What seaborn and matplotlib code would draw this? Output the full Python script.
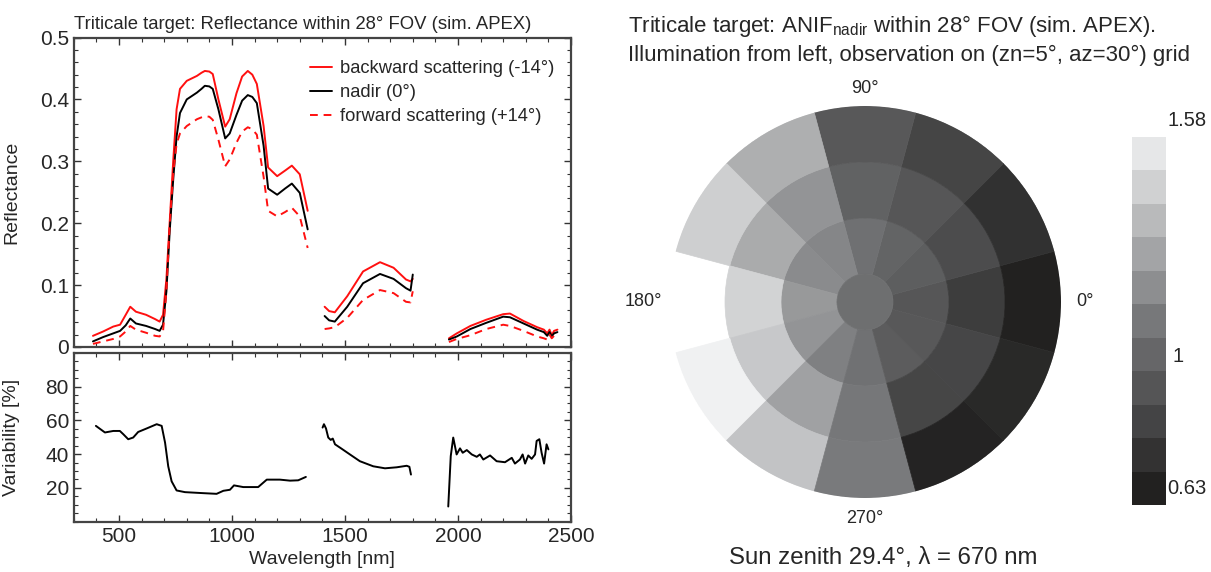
import numpy as np
import pandas as pd
import matplotlib
matplotlib.use("Agg")
import matplotlib.pyplot as plt
import seaborn as sns
from matplotlib.colors import LinearSegmentedColormap, Normalize
from matplotlib.colorbar import ColorbarBase
from matplotlib.lines import Line2D
from matplotlib.ticker import MultipleLocator

### spectral data
wl_vnir = [385, 430, 475, 505, 530, 550, 575, 620, 660, 680, 695, 710, 725, 740, 755, 770, 800, 845,
           865, 880, 900, 915, 940, 970, 990, 1020, 1045, 1070, 1090, 1110, 1140, 1160, 1200, 1235, 1265,
           1300, 1335]
back_vnir = [0.018, 0.025, 0.033, 0.036, 0.052, 0.065, 0.057, 0.052, 0.045, 0.041, 0.052, 0.11, 0.205, 0.30,
             0.384, 0.417, 0.43, 0.438, 0.443, 0.446, 0.445, 0.441, 0.40, 0.356, 0.368, 0.41, 0.437, 0.446,
             0.440, 0.425, 0.357, 0.29, 0.276, 0.285, 0.293, 0.279, 0.22]
nadir_vnir = [0.009, 0.016, 0.022, 0.026, 0.035, 0.046, 0.038, 0.034, 0.029, 0.026, 0.036, 0.09, 0.19, 0.27,
              0.34, 0.378, 0.40, 0.411, 0.417, 0.422, 0.421, 0.417, 0.384, 0.337, 0.345, 0.375, 0.398, 0.407,
              0.404, 0.394, 0.325, 0.256, 0.246, 0.256, 0.264, 0.249, 0.19]
fwd_vnir = [0.005, 0.009, 0.013, 0.017, 0.025, 0.034, 0.028, 0.023, 0.018, 0.017, 0.025, 0.09, 0.20, 0.28,
            0.328, 0.345, 0.357, 0.368, 0.371, 0.373, 0.372, 0.367, 0.335, 0.292, 0.303, 0.33, 0.348, 0.355,
            0.352, 0.343, 0.275, 0.22, 0.211, 0.218, 0.225, 0.211, 0.16]

wl_swir1 = [1410, 1430, 1455, 1510, 1580, 1655, 1715, 1770, 1790, 1800]
back_swir1 = [0.065, 0.058, 0.056, 0.082, 0.122, 0.137, 0.128, 0.109, 0.106, 0.11]
nadir_swir1 = [0.05, 0.043, 0.041, 0.065, 0.103, 0.118, 0.11, 0.095, 0.091, 0.117]
fwd_swir1 = [0.029, 0.03, 0.032, 0.047, 0.076, 0.092, 0.087, 0.073, 0.072, 0.09]

wl_swir2 = [1960, 1995, 2055, 2125, 2200, 2230, 2290, 2350, 2380, 2395, 2405, 2415, 2425, 2440]
back_swir2 = [0.014, 0.022, 0.034, 0.044, 0.053, 0.054, 0.042, 0.032, 0.028, 0.022, 0.028, 0.019, 0.026, 0.028]
nadir_swir2 = [0.012, 0.017, 0.029, 0.039, 0.049, 0.048, 0.038, 0.028, 0.024, 0.018, 0.024, 0.017, 0.022, 0.024]
fwd_swir2 = [0.008, 0.013, 0.019, 0.029, 0.036, 0.034, 0.026, 0.017, 0.014, 0.012, 0.02, 0.014, 0.018, 0.021]

# variability [%]
wl_var1 = [398, 438, 475, 504, 519, 541, 563, 585, 623, 667, 689, 704, 718, 733, 755, 792, 873, 932, 962,
           991, 1009, 1050, 1116, 1154, 1212, 1257, 1293, 1327]
var1 = [56.7, 52.8, 53.7, 53.7, 51.8, 48.8, 49.8, 53.1, 55.2, 57.7, 56.7, 46.8, 32.8, 23.9, 18.5, 17.5, 16.9,
        16.5, 18.3, 18.9, 21.5, 20.5, 20.5, 24.9, 24.9, 24.3, 24.5, 26.5]
wl_var2 = [1401, 1407, 1416, 1426, 1437, 1446, 1456, 1485, 1522, 1566, 1625, 1677, 1729, 1773, 1785, 1792]
var2 = [55.7, 57.7, 55.2, 49.8, 48.4, 49.2, 45.8, 43.2, 39.8, 35.8, 32.8, 31.6, 32.2, 33.1, 32.5, 27.9]
wl_var3 = [1957, 1968, 1979, 1994, 2009, 2021, 2039, 2061, 2083, 2097, 2112, 2142, 2171, 2208, 2238, 2252,
           2274, 2286, 2297, 2311, 2326, 2341, 2348, 2360, 2370, 2381, 2392, 2400]
var3 = [9, 38.8, 49.8, 39.8, 43.4, 40.8, 42.4, 39.8, 38.4, 39.8, 36.8, 39.2, 35.8, 35.2, 37.8, 34.4, 36.8,
        39.8, 34.4, 39.2, 37.2, 39.8, 47.8, 48.8, 40.8, 34.4, 45.8, 42.8]

### ANIF polar grid (zn = 0, 5, 10, 15 ; az step 30)
azimuths = [0, 30, 60, 90, 120, 150, 180, 210, 240, 270, 300, 330]
anif_zn0 = 1.057
anif_zn5 = [0.938, 0.973, 1.004, 1.065, 1.158, 1.18, 1.233, 1.215, 1.136, 1.07, 0.964, 0.947]
anif_zn10 = [0.81, 0.889, 0.938, 0.995, 1.215, 1.303, 1.461, 1.417, 1.268, 1.101, 0.854, 0.859]
anif_zn15 = [0.674, 0.749, 0.85, 0.947, 1.32, 1.444, np.nan, 1.58, 1.40, 1.114, 0.683, 0.709]
anif_min, anif_max = 0.63, 1.58

sns.set_theme(style="ticks")
plt.rcParams['font.family'] = ['Liberation Sans', 'DejaVu Sans']
plt.rcParams['mathtext.fontset'] = 'custom'
plt.rcParams['mathtext.rm'] = 'Liberation Sans'
plt.rcParams['mathtext.it'] = 'Liberation Sans'

fig = plt.figure(figsize=(12.11, 5.72), dpi=100)
ax1 = fig.add_axes([0.0609, 0.3934, 0.4106, 0.541])
ax2 = fig.add_axes([0.0609, 0.0879, 0.4106, 0.2955])

red = "#ff1010"
lw = 1.4
for wl, b, n, f in [(wl_vnir, back_vnir, nadir_vnir, fwd_vnir),
                    (wl_swir1, back_swir1, nadir_swir1, fwd_swir1),
                    (wl_swir2, back_swir2, nadir_swir2, fwd_swir2)]:
    seg = pd.DataFrame({"wl": wl, "back": b, "nadir": n, "fwd": f})
    sns.lineplot(data=seg, x="wl", y="back", color=red, lw=lw, ax=ax1)
    sns.lineplot(data=seg, x="wl", y="nadir", color="black", lw=lw, ax=ax1)
    sns.lineplot(data=seg, x="wl", y="fwd", color=red, lw=lw, ax=ax1, linestyle=(0, (4, 3)))

for wl, v in [(wl_var1, var1), (wl_var2, var2), (wl_var3, var3)]:
    sns.lineplot(x=wl, y=v, color="black", lw=lw, ax=ax2)

for ax in (ax1, ax2):
    ax.set_xlim(300, 2500)
    ax.xaxis.set_major_locator(MultipleLocator(500))
    ax.xaxis.set_minor_locator(MultipleLocator(100))
    ax.tick_params(which="both", direction="in", top=True, right=True, labelsize=15, color="#333333")
    ax.tick_params(which="major", length=5, width=1)
    ax.tick_params(which="minor", length=3, width=0.8)
    for sp in ax.spines.values():
        sp.set_linewidth(1.6)
        sp.set_color("#444444")

ax1.set_ylim(0, 0.5)
ax1.set_yticks([0, 0.1, 0.2, 0.3, 0.4, 0.5])
ax1.set_yticklabels(["0", "0.1", "0.2", "0.3", "0.4", "0.5"])
ax1.yaxis.set_minor_locator(MultipleLocator(0.02))
ax1.tick_params(labelbottom=False)
ax1.set_xlabel("")
ax1.set_ylabel("Reflectance", fontsize=14)
ax1.set_title("Triticale target: Reflectance within 28° FOV (sim. APEX)", loc="left", fontsize=13.3, pad=6)

ax2.set_ylim(0, 100)
ax2.set_yticks([20, 40, 60, 80])
ax2.yaxis.set_minor_locator(MultipleLocator(5))
ax2.set_xlabel("Wavelength [nm]", fontsize=14, labelpad=4)
ax2.set_ylabel("Variability [%]", fontsize=14)
for ax in (ax1, ax2):
    ax.yaxis.set_label_coords(-0.108, 0.5)

handles = [Line2D([], [], color=red, lw=lw),
           Line2D([], [], color="black", lw=lw),
           Line2D([], [], color=red, lw=lw, linestyle=(0, (4, 3)))]
labels = ["backward scattering (-14°)", "nadir (0°)", "forward scattering (+14°)"]
ax1.legend(handles, labels, loc="upper right", frameon=False, fontsize=13.2, handlelength=1.2,
           handletextpad=0.45, labelspacing=0.38, borderaxespad=0.5, bbox_to_anchor=(1.0, 0.98))

### polar ANIF plot
cmap = LinearSegmentedColormap.from_list("anif_gray", ["#1a1918", "#77787a", "#f0f1f2"], N=256)
norm = Normalize(vmin=anif_min, vmax=anif_max)

axp = fig.add_axes([669 / 1211, 1 - 498 / 572, 392 / 1211, 392 / 572], projection="polar")
theta = np.deg2rad(azimuths)
width = np.deg2rad(30)
for zn, vals in [(5, anif_zn5), (10, anif_zn10), (15, anif_zn15)]:
    vals = np.array(vals)
    ok = ~np.isnan(vals)
    cols = cmap(norm(vals[ok]))
    axp.bar(theta[ok], 5, width=width, bottom=zn - 2.5, color=cols, edgecolor=cols, linewidth=0.5)
axp.bar(0, 2.5, width=2 * np.pi, bottom=0, color=cmap(norm(anif_zn0)), edgecolor=cmap(norm(anif_zn0)),
        linewidth=0.5)
axp.set_ylim(0, 17.5)
axp.grid(False)
axp.spines["polar"].set_visible(False)
axp.set_yticks([])
axp.set_xticks([])
for ang, rr in [(0, 19.6), (90, 19.1), (180, 19.8), (270, 19.3)]:
    axp.text(np.deg2rad(ang), rr, f"{ang}°", fontsize=13, ha="center", va="center", clip_on=False)

# colorbar (11 discrete levels)
cax = fig.add_axes([1132 / 1211, 1 - 505 / 572, 34 / 1211, 368 / 572])
levels = np.linspace(anif_min, anif_max, 12)
mids = (levels[:-1] + levels[1:]) / 2
cb = ColorbarBase(cax, cmap=cmap, norm=norm, boundaries=levels, values=mids, orientation="vertical")
cb.outline.set_visible(False)
cax.set_yticks([])
cax.text(1.05, 1.045, "1.58", transform=cax.transAxes, fontsize=14.5, ha="left", va="center")
cax.text(1.2, norm(1.0) + 0.015, "1", transform=cax.transAxes, fontsize=14.5, ha="left", va="center")
cax.text(1.03, 0.045, "0.63", transform=cax.transAxes, fontsize=14.5, ha="left", va="center")

fig.text(628 / 1211, 1 - 26 / 572, r"Triticale target: ANIF$_{\mathrm{nadir}}$ within 28° FOV (sim. APEX).",
         fontsize=16, ha="left", va="center")
fig.text(628 / 1211, 1 - 55 / 572, "Illumination from left, observation on (zn=5°, az=30°) grid",
         fontsize=16, ha="left", va="center")
fig.text(883 / 1211, 1 - 558 / 572, "Sun zenith 29.4°, λ = 670 nm", fontsize=17.3, ha="center", va="center")

fig.savefig("out.png", dpi=100)
